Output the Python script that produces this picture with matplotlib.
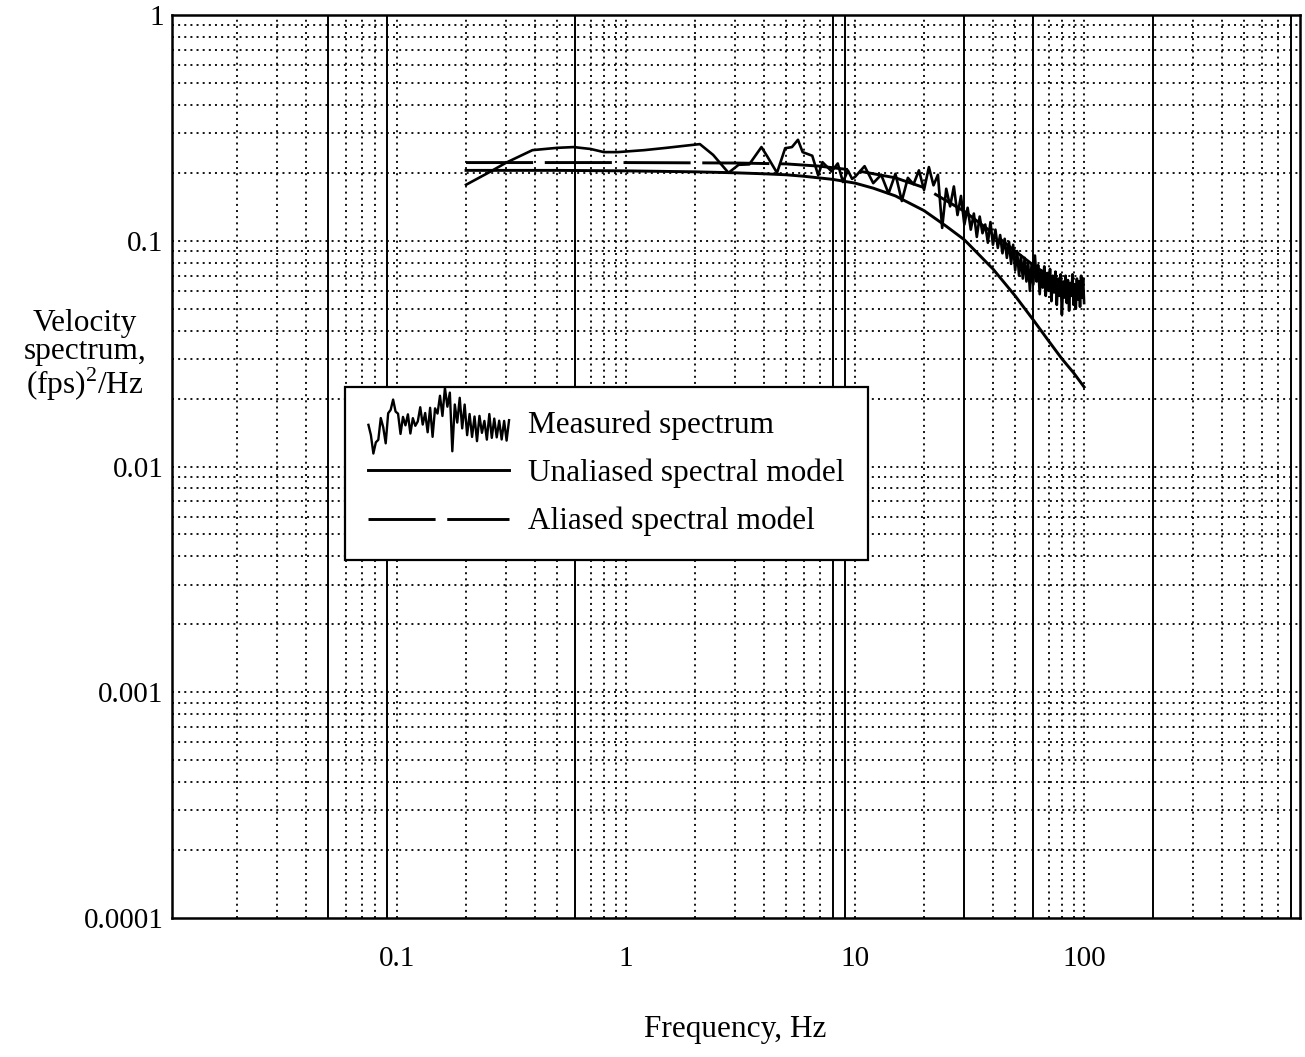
import numpy as np
import matplotlib.pyplot as plt
from matplotlib.legend_handler import HandlerBase
from matplotlib.lines import Line2D
from matplotlib.ticker import NullLocator

plt.rcParams['font.family'] = ['Liberation Serif', 'DejaVu Serif']
plt.rcParams['mathtext.fontset'] = 'custom'
plt.rcParams['mathtext.rm'] = 'Liberation Serif'

# Measured spectrum, low frequency part (read point by point)
meas_freq_lo = [0.2, 0.25, 0.3, 0.39, 0.5, 0.59, 0.7, 0.8, 0.92, 1.2, 1.5, 1.96,
                2.1, 2.4, 2.8, 3.1, 3.45, 3.9, 4.15, 4.56, 4.95, 5.3, 5.63, 5.9,
                6.5, 6.9, 7.2, 7.9, 8.4, 8.85, 9.3, 9.7]
meas_val_lo = [0.177, 0.2, 0.222, 0.252, 0.258, 0.26, 0.255, 0.247, 0.247, 0.252,
               0.258, 0.266, 0.268, 0.24, 0.2, 0.217, 0.218, 0.26, 0.235, 0.2,
               0.257, 0.26, 0.28, 0.247, 0.238, 0.195, 0.223, 0.203, 0.22, 0.182,
               0.205, 0.188]

# Measured spectrum, 10-100 Hz in 1 Hz bins
meas_freq_hi = np.arange(10.0, 101.0, 1.0)
meas_val_hi = [0.192, 0.214, 0.180, 0.196, 0.162, 0.198, 0.150, 0.190, 0.178, 0.205,
               0.168, 0.212, 0.176, 0.196, 0.114, 0.170, 0.142, 0.174, 0.130, 0.158,
               0.118, 0.140, 0.112, 0.132, 0.104, 0.128, 0.108, 0.118, 0.098, 0.121,
               0.096, 0.112, 0.093, 0.106, 0.088, 0.102, 0.084, 0.099, 0.079, 0.096,
               0.074, 0.090, 0.070, 0.086, 0.068, 0.084, 0.066, 0.080, 0.060, 0.079,
               0.064, 0.086, 0.066, 0.078, 0.058, 0.074, 0.062, 0.077, 0.057, 0.072,
               0.060, 0.075, 0.054, 0.070, 0.059, 0.073, 0.052, 0.068, 0.057, 0.071,
               0.047, 0.066, 0.056, 0.070, 0.053, 0.067, 0.049, 0.065, 0.057, 0.071,
               0.052, 0.064, 0.050, 0.068, 0.055, 0.066, 0.051, 0.070, 0.056, 0.068,
               0.053]

meas_freq = np.concatenate([meas_freq_lo, meas_freq_hi])
meas_val = np.concatenate([meas_val_lo, meas_val_hi])

# Unaliased spectral model
unal_freq = [0.2, 0.5, 1, 2, 3, 4, 5, 6, 8, 10, 12, 15, 20, 25, 30, 40, 50, 60, 70, 80, 90, 100]
unal_val = [0.205, 0.205, 0.204, 0.202, 0.2, 0.198, 0.196, 0.193, 0.187, 0.18, 0.171,
            0.158, 0.136, 0.116, 0.101, 0.075, 0.057, 0.0446, 0.036, 0.030, 0.026, 0.0225]

# Aliased spectral model
alias_freq = [0.2, 1, 3, 5, 7, 10, 15, 20, 30, 40, 50, 60, 70, 80, 90, 100]
alias_val = [0.222, 0.222, 0.221, 0.219, 0.214, 0.205, 0.19, 0.172, 0.135, 0.108,
             0.09, 0.078, 0.07, 0.066, 0.064, 0.063]

# darker rules on the log paper
heavy_x = [0.05, 0.09, 0.6, 8, 9, 30, 60, 200, 800]

x_ticks = [0.1, 1, 10, 100]
x_labels = ['0.1', '1', '10', '100']
y_ticks = [1e-4, 1e-3, 1e-2, 1e-1, 1]
y_labels = ['0.0001', '0.001', '0.01', '0.1', '1']


class SquiggleHandler(HandlerBase):
    """Legend key drawn as the measured trace with its slope taken out."""
    def __init__(self, vals):
        super().__init__()
        lv = np.log10(np.asarray(vals))
        idx = np.arange(len(lv))
        fit = np.polyfit(idx, lv, 1)
        self.trace = lv - np.polyval(fit, idx)

    def create_artists(self, legend, orig_handle, xdescent, ydescent,
                       width, height, fontsize, trans):
        t = self.trace
        xs = np.linspace(-xdescent, width - xdescent, len(t))
        ys = -ydescent + height / 2 + t / (t.max() - t.min()) * height * 3.0
        line = Line2D(xs, ys, color='black', lw=1.7)
        line.set_transform(trans)
        return [line]


fig = plt.figure(figsize=(13.05, 10.57), dpi=100)
ax = fig.add_axes([0.1318, 0.1315, 0.8644, 0.8543])
ax.set_xscale('log')
ax.set_yscale('log')
ax.set_xlim(0.0104, 877)
ax.set_ylim(1e-4, 1)

# log-paper grid
dot = (0, (1.1, 2.3))
for n in range(-2, 3):
    for k in range(1, 10):
        v = k * 10.0 ** n
        if 0.0104 < v < 877:
            if any(abs(v - h) < 1e-9 for h in heavy_x):
                ax.axvline(v, color='black', lw=1.4, zorder=1)
            else:
                ax.axvline(v, color='black', lw=1.3, ls=dot, zorder=1)
for n in range(-4, 0):
    for k in range(1, 10):
        v = k * 10.0 ** n
        if 1e-4 < v < 1:
            ax.axhline(v, color='black', lw=1.3, ls=dot, zorder=1)

meas_line, = ax.plot(meas_freq, meas_val, color='black', lw=1.9, zorder=3)
unal_line, = ax.plot(unal_freq, unal_val, color='black', lw=2.1, zorder=3)
alias_line, = ax.plot(alias_freq, alias_val, color='black', lw=2.1,
                      dashes=(23, 4), zorder=3)

ax.xaxis.set_minor_locator(NullLocator())
ax.yaxis.set_minor_locator(NullLocator())
ax.set_xticks(x_ticks)
ax.set_xticklabels(x_labels)
ax.set_yticks(y_ticks)
ax.set_yticklabels(y_labels)
ax.tick_params(axis='x', length=0, labelsize=21, pad=20)
ax.tick_params(axis='y', length=0, labelsize=21, pad=6)
for s in ax.spines.values():
    s.set_linewidth(1.8)

leg = ax.legend([meas_line, unal_line, alias_line],
                ['Measured spectrum', 'Unaliased spectral model', 'Aliased spectral model'],
                handler_map={meas_line: SquiggleHandler(meas_val[12:70])},
                loc='upper left', bbox_to_anchor=(345 / 1305, 1 - 387 / 1057),
                bbox_transform=fig.transFigure, borderaxespad=0,
                fontsize=22.5, handlelength=4.5, handletextpad=0.62,
                labelspacing=0.6, borderpad=0.75, fancybox=False,
                framealpha=1, edgecolor='black')
leg.get_frame().set_linewidth(1.6)
leg.set_zorder(5)

fig.text(85 / 1305, 1 - 356 / 1057, 'Velocity\nspectrum,\n(fps)$^{2}$/Hz',
         ha='center', va='center', fontsize=22.5, linespacing=0.95)
fig.text(735 / 1305, 1 - 1030 / 1057, 'Frequency, Hz', ha='center', va='center',
         fontsize=22.5)

fig.savefig('out.png', dpi=100)
